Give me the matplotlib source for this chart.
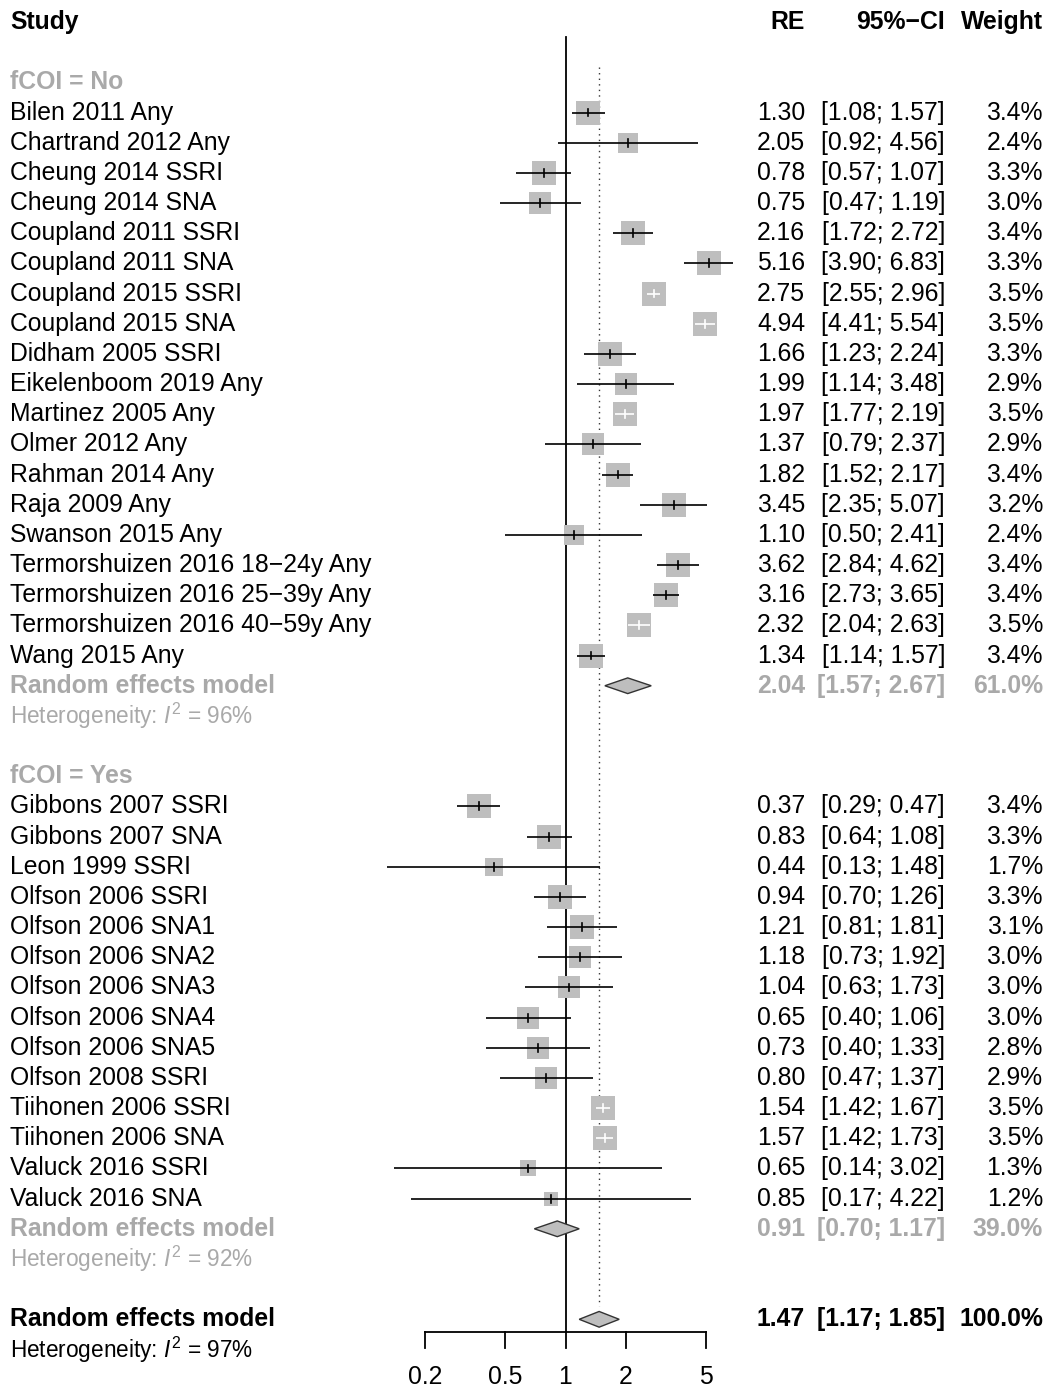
import numpy as np
import matplotlib
matplotlib.use("Agg")
from matplotlib import pyplot as plt
from matplotlib.patches import Polygon

plt.rcParams['font.family'] = ['Liberation Sans', 'DejaVu Sans']
plt.rcParams['mathtext.fontset'] = 'custom'
plt.rcParams['mathtext.rm'] = 'Liberation Sans'
plt.rcParams['mathtext.it'] = 'Liberation Sans:italic'

# ---- data ----
studies_no = ["Bilen 2011 Any", "Chartrand 2012 Any", "Cheung 2014 SSRI", "Cheung 2014 SNA",
              "Coupland 2011 SSRI", "Coupland 2011 SNA", "Coupland 2015 SSRI", "Coupland 2015 SNA",
              "Didham 2005 SSRI", "Eikelenboom 2019 Any", "Martinez 2005 Any", "Olmer 2012 Any",
              "Rahman 2014 Any", "Raja 2009 Any", "Swanson 2015 Any",
              "Termorshuizen 2016 18\u221224y Any", "Termorshuizen 2016 25\u221239y Any",
              "Termorshuizen 2016 40\u221259y Any", "Wang 2015 Any"]
est_no = [1.30, 2.05, 0.78, 0.75, 2.16, 5.16, 2.75, 4.94, 1.66, 1.99, 1.97, 1.37, 1.82, 3.45,
          1.10, 3.62, 3.16, 2.32, 1.34]
lo_no = [1.08, 0.92, 0.57, 0.47, 1.72, 3.90, 2.55, 4.41, 1.23, 1.14, 1.77, 0.79, 1.52, 2.35,
         0.50, 2.84, 2.73, 2.04, 1.14]
hi_no = [1.57, 4.56, 1.07, 1.19, 2.72, 6.83, 2.96, 5.54, 2.24, 3.48, 2.19, 2.37, 2.17, 5.07,
         2.41, 4.62, 3.65, 2.63, 1.57]
w_no = [3.4, 2.4, 3.3, 3.0, 3.4, 3.3, 3.5, 3.5, 3.3, 2.9, 3.5, 2.9, 3.4, 3.2, 2.4, 3.4, 3.4, 3.5, 3.4]

studies_yes = ["Gibbons 2007 SSRI", "Gibbons 2007 SNA", "Leon 1999 SSRI", "Olfson 2006 SSRI",
               "Olfson 2006 SNA1", "Olfson 2006 SNA2", "Olfson 2006 SNA3", "Olfson 2006 SNA4",
               "Olfson 2006 SNA5", "Olfson 2008 SSRI", "Tiihonen 2006 SSRI", "Tiihonen 2006 SNA",
               "Valuck 2016 SSRI", "Valuck 2016 SNA"]
est_yes = [0.37, 0.83, 0.44, 0.94, 1.21, 1.18, 1.04, 0.65, 0.73, 0.80, 1.54, 1.57, 0.65, 0.85]
lo_yes = [0.29, 0.64, 0.13, 0.70, 0.81, 0.73, 0.63, 0.40, 0.40, 0.47, 1.42, 1.42, 0.14, 0.17]
hi_yes = [0.47, 1.08, 1.48, 1.26, 1.81, 1.92, 1.73, 1.06, 1.33, 1.37, 1.67, 1.73, 3.02, 4.22]
w_yes = [3.4, 3.3, 1.7, 3.3, 3.1, 3.0, 3.0, 3.0, 2.8, 2.9, 3.5, 3.5, 1.3, 1.2]

# random effects summaries: (estimate, lower, upper, weight, I2)
re_no = (2.04, 1.57, 2.67, 61.0, 96)
re_yes = (0.91, 0.70, 1.17, 39.0, 92)
re_all = (1.47, 1.17, 1.85, 100.0, 97)

xticks = [0.2, 0.5, 1, 2, 5]

# ---- layout ----
W, H = 1047, 1390
ROW0, DY = 22, 30.17          # pixel y of row 0 and row spacing
GREY = '#A9A9A9'
FS = 17.8
FS_HET = 16.3

fig = plt.figure(figsize=(W / 100, H / 100), dpi=100)
ylim = ((H - ROW0) / DY, -ROW0 / DY)

# text layer in pixel x, row y
tx = fig.add_axes([0, 0, 1, 1])
tx.set_xlim(0, W)
tx.set_ylim(*ylim)
tx.axis('off')

# forest layer, log x: 1 sits at px 565.5, 201 px per decade
px1, ppd = 565.5, 201.0
left = px1 - ppd
fx = fig.add_axes([left / W, 0, 2 * ppd / W, 1])
fx.set_xscale('log')
fx.set_xlim(0.1, 10)
fx.set_ylim(*ylim)
fx.axis('off')
fig.canvas.draw()


def fmt_ci(lo, hi):
    return "[%.2f; %.2f]" % (lo, hi)


def stats_text(row, e, lo, hi, w, color='black', weight='normal'):
    tx.text(805, row, "%.2f" % e, ha='right', va='center', fontsize=FS, color=color, fontweight=weight)
    tx.text(945, row, fmt_ci(lo, hi), ha='right', va='center', fontsize=FS, color=color, fontweight=weight)
    tx.text(1043, row, "%.1f%%" % w, ha='right', va='center', fontsize=FS, color=color, fontweight=weight)


def draw_study(row, name, e, lo, hi, w):
    side_px = 13.2 * np.sqrt(w)
    fx.scatter([e], [row], marker='s', s=(side_px * 0.72) ** 2, color='#BEBEBE', linewidths=0, zorder=2)
    # CI line is white when it lies inside the square
    pe = fx.transData.transform((e, row))[0]
    pl = fx.transData.transform((lo, row))[0]
    ph = fx.transData.transform((hi, row))[0]
    inside = (pe - pl) < side_px / 2 and (ph - pe) < side_px / 2
    col = 'white' if inside else 'black'
    fx.plot([lo, hi], [row, row], color=col, lw=1.2, zorder=3, solid_capstyle='butt')
    fx.plot([e, e], [row - 0.13, row + 0.13], color=col, lw=1.2, zorder=3)
    tx.text(10, row, name, ha='left', va='center', fontsize=FS)
    stats_text(row, e, lo, hi, w)


def draw_diamond(row, e, lo, hi):
    h = 0.26
    d = Polygon([(lo, row), (e, row - h), (hi, row), (e, row + h)], closed=True,
                facecolor='#BEBEBE', edgecolor='#333333', lw=1.0, zorder=4)
    fx.add_patch(d)


def het_text(row, i2, color):
    tx.text(10, row, r"Heterogeneity: $\mathit{I}^2$ = %d%%" % i2, ha='left', va='center',
            fontsize=FS_HET, color=color)


# header
tx.text(10, 0, "Study", ha='left', va='center', fontsize=FS, fontweight='bold')
tx.text(805, 0, "RE", ha='right', va='center', fontsize=FS, fontweight='bold')
tx.text(945, 0, "95%\u2212CI", ha='right', va='center', fontsize=FS, fontweight='bold')
tx.text(1043, 0, "Weight", ha='right', va='center', fontsize=FS, fontweight='bold')

# subgroup fCOI = No
tx.text(10, 2, "fCOI = No", ha='left', va='center', fontsize=FS, fontweight='bold', color=GREY)
r = 3
for i in range(len(studies_no)):
    draw_study(r, studies_no[i], est_no[i], lo_no[i], hi_no[i], w_no[i])
    r += 1
draw_diamond(r, re_no[0], re_no[1], re_no[2])
tx.text(10, r, "Random effects model", ha='left', va='center', fontsize=FS, fontweight='bold', color=GREY)
stats_text(r, re_no[0], re_no[1], re_no[2], re_no[3], color=GREY, weight='bold')
het_text(r + 1, re_no[4], GREY)

# subgroup fCOI = Yes
r += 3
tx.text(10, r, "fCOI = Yes", ha='left', va='center', fontsize=FS, fontweight='bold', color=GREY)
r += 1
for i in range(len(studies_yes)):
    draw_study(r, studies_yes[i], est_yes[i], lo_yes[i], hi_yes[i], w_yes[i])
    r += 1
draw_diamond(r, re_yes[0], re_yes[1], re_yes[2])
tx.text(10, r, "Random effects model", ha='left', va='center', fontsize=FS, fontweight='bold', color=GREY)
stats_text(r, re_yes[0], re_yes[1], re_yes[2], re_yes[3], color=GREY, weight='bold')
het_text(r + 1, re_yes[4], GREY)

# overall
r += 3
draw_diamond(r, re_all[0], re_all[1], re_all[2])
tx.text(10, r, "Random effects model", ha='left', va='center', fontsize=FS, fontweight='bold')
stats_text(r, re_all[0], re_all[1], re_all[2], re_all[3], weight='bold')
het_text(r + 1, re_all[4], 'black')

# reference lines
y_axis = (1332 - ROW0) / DY
fx.plot([1, 1], [0.5, y_axis], color='black', lw=1.3, zorder=1)
fx.plot([re_all[0], re_all[0]], [1.5, r - 0.45], color='#333333', lw=1.0, ls=(0, (1, 3)), zorder=1)

# x axis
fx.plot([xticks[0], xticks[-1]], [y_axis, y_axis], color='black', lw=1.3)
for t in xticks:
    fx.plot([t, t], [y_axis, y_axis + 0.52], color='black', lw=1.3)
    fx.text(t, (1377 - ROW0) / DY, "%g" % t, ha='center', va='center', fontsize=FS)

fig.savefig("out.png", dpi=100)
